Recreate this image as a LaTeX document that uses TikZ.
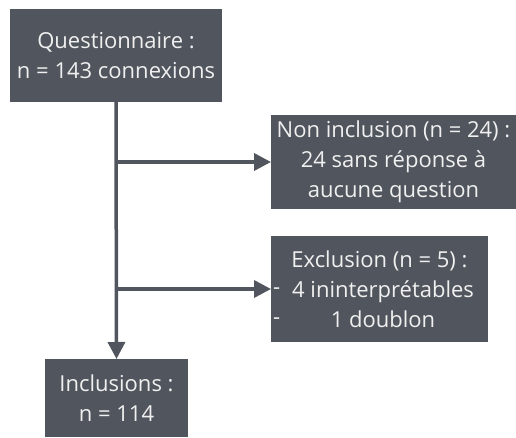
\documentclass[tikz,border=0pt]{standalone}
\usepackage{fontspec}
\setmainfont{Open Sans}
\usetikzlibrary{arrows.meta}
\definecolor{boxfill}{HTML}{51555D}
\definecolor{boxtext}{HTML}{F0F0F0}
\definecolor{linecol}{HTML}{51555D}
\newcommand{\boxfont}{\fontsize{22}{30}\selectfont}
\begin{document}
\begin{tikzpicture}[x=1pt,y=1pt,
  boxstyle/.style={fill=boxfill,draw=none,text=boxtext,inner sep=0pt,outer sep=0pt,
    font=\boxfont,align=center},
  dashlabel/.style={font=\boxfont,text=boxtext,anchor=west,inner sep=0pt},
  conn/.style={draw=linecol,line width=3.5pt,-{Triangle[length=17pt,width=17pt]}}]
\useasboundingbox (0,0) rectangle (516,437);
% boxes (pixel y measured from top; y = 437 - py)
\node[boxstyle,minimum width=212pt,minimum height=93pt] (q) at (116,381.5)
  {Questionnaire :\\n = 143 connexions};
\node[boxstyle,minimum width=245pt,minimum height=94pt] (ni) at (393.5,275)
  {Non inclusion (n = 24) :\\24 sans réponse à\\aucune question};
\node[boxstyle,minimum width=217pt,minimum height=106pt] (ex) at (379.5,148)
  {Exclusion (n = 5) :\\\phantom{-}4 ininterprétables\\\phantom{-}1 doublon};
\node[dashlabel] (d1) at ([xshift=2pt,yshift=-2pt]ex.west) {-};
\node[dashlabel] (d2) at ([xshift=2pt,yshift=-32pt]ex.west) {-};
\node[boxstyle,minimum width=143pt,minimum height=78pt] (inc) at (116.5,39)
  {Inclusions :\\n = 114};
% connectors
\coordinate (j1) at (q.south |- ni.west);
\coordinate (j2) at (q.south |- ex.west);
\draw[conn] (q.south) -- (inc.north);
\draw[conn] (j1) -- (ni.west);
\draw[conn] (j2) -- (ex.west);
\end{tikzpicture}
\end{document}
